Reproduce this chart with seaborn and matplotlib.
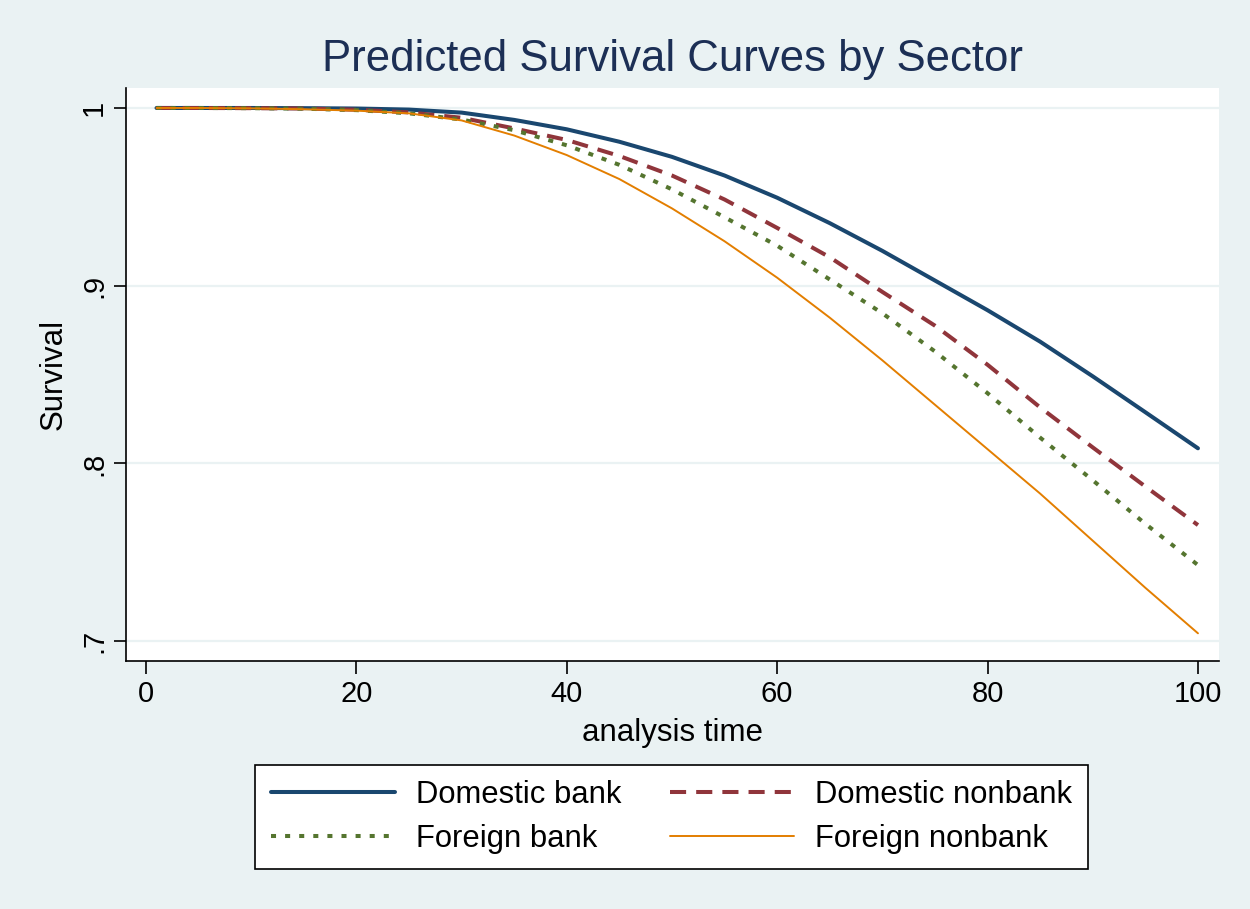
import matplotlib
matplotlib.use("Agg")
import matplotlib.pyplot as plt
import seaborn as sns
import pandas as pd

# analysis time grid and predicted survival
t = [1, 5, 10, 15, 20, 25, 30, 35, 40, 45, 50, 55, 60, 65, 70, 75, 80, 85, 90, 95, 100]
dom_bank = [1.0, 1.0, 1.0, 0.9999, 0.9997, 0.9991, 0.9974, 0.9933, 0.9880, 0.9810, 0.9725,
            0.9620, 0.9495, 0.9352, 0.9196, 0.9029, 0.8862, 0.8685, 0.8490, 0.8288, 0.8085]
dom_nonbank = [1.0, 1.0, 0.9999, 0.9997, 0.9990, 0.9975, 0.9945, 0.9885, 0.9820, 0.9730, 0.9620,
               0.9485, 0.9325, 0.9160, 0.8965, 0.8775, 0.8555, 0.8315, 0.8090, 0.7870, 0.7653]
for_bank = [1.0, 1.0, 0.9999, 0.9996, 0.9988, 0.9970, 0.9935, 0.9875, 0.9790, 0.9680, 0.9542,
            0.9385, 0.9225, 0.9035, 0.8845, 0.8630, 0.8395, 0.8145, 0.7905, 0.7660, 0.7428]
for_nonbank = [1.0, 1.0, 0.9998, 0.9993, 0.9985, 0.9970, 0.9930, 0.9845, 0.9735, 0.9600, 0.9435,
               0.9250, 0.9045, 0.8820, 0.8580, 0.8330, 0.8080, 0.7830, 0.7565, 0.7300, 0.7044]

labels = ["Domestic bank", "Domestic nonbank", "Foreign bank", "Foreign nonbank"]
yticks = [0.7, 0.8, 0.9, 1.0]
ytick_labels = [".7", ".8", ".9", "1"]
xticks = [0, 20, 40, 60, 80, 100]

bg = "#eaf2f3"
colors = ["#1a476f", "#90353b", "#55752f", "#e37e00"]
widths = [2.9, 2.9, 2.9, 1.4]
styles = ["-", (0, (4, 2.5)), (0, (1.25, 2.25)), "-"]

sns.set_style("white")
plt.rcParams['font.family'] = ["Liberation Sans", "DejaVu Sans"]
plt.rcParams['text.color'] = "black"
plt.rcParams['axes.labelcolor'] = "black"
plt.rcParams['xtick.color'] = "black"
plt.rcParams['ytick.color'] = "black"

fig = plt.figure(figsize=(12.5, 9.09), dpi=100, facecolor=bg)
ax = fig.add_axes([0.1008, 0.2728, 0.8744, 0.6304])
ax.set_facecolor("white")

for lab, vals, c, w, ls in zip(labels, [dom_bank, dom_nonbank, for_bank, for_nonbank],
                               colors, widths, styles):
    df = pd.DataFrame({"t": t, "s": vals})
    sns.lineplot(data=df, x="t", y="s", ax=ax, color=c, linewidth=w,
                 linestyle=ls, label=lab, legend=False)

ax.set_xlim(-1.9, 102.0)
ax.set_ylim(0.6888, 1.01125)
ax.set_xticks(xticks)
ax.set_xticklabels([str(v) for v in xticks], fontsize=21)
ax.set_yticks(yticks)
ax.set_yticklabels(ytick_labels, fontsize=21, rotation=90, va="center")
ax.tick_params(axis="both", direction="out", length=9, width=1.2, color="black",
               bottom=True, left=True)
ax.tick_params(axis="x", pad=5)
ax.tick_params(axis="y", pad=4)

ax.grid(axis="y", color=bg, linewidth=1.6)
ax.grid(axis="x", visible=False)
ax.set_axisbelow(True)

for side in ["top", "right"]:
    ax.spines[side].set_visible(False)
for side in ["left", "bottom"]:
    ax.spines[side].set_color("black")
    ax.spines[side].set_linewidth(1.2)

ax.set_xlabel("analysis time", fontsize=22.5, labelpad=7)
ax.set_ylabel("Survival", fontsize=22.5, labelpad=8)
ax.set_title("Predicted Survival Curves by Sector", fontsize=31.5, color="#1c2f55", pad=12)

handles, labs = ax.get_legend_handles_labels()
order = [0, 2, 1, 3]
leg = fig.legend([handles[i] for i in order], [labs[i] for i in order], ncol=2,
                 loc="center", bbox_to_anchor=(0.5372, 0.1012), fontsize=22.3,
                 frameon=True, fancybox=False, edgecolor="black", facecolor="white",
                 framealpha=1, handlelength=4.0, handletextpad=0.7, columnspacing=1.55,
                 labelspacing=0.45, borderpad=0.5)
leg.get_frame().set_linewidth(1.2)

fig.savefig("out.png", dpi=100, facecolor=bg)
